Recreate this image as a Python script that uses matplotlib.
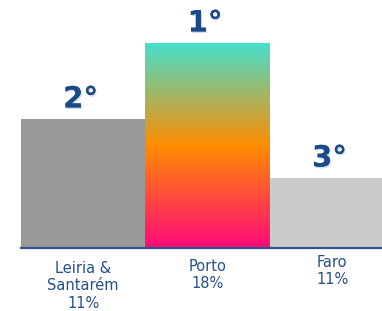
import numpy as np
import matplotlib.pyplot as plt
import matplotlib.patheffects as pe
from matplotlib.colors import LinearSegmentedColormap

# pódio: posições e textos
cities = ["Leiria &\nSantarém", "Porto", "Faro"]
shares = ["11%", "18%", "11%"]
places = ["2°", "1°", "3°"]
podium = [129, 205, 70]          # altura do degrau (unidades arbitrárias)
label_y = [-13, -11, -7]

navy = "#1b4a86"
fig = plt.figure(figsize=(3.82, 3.11), dpi=100)
ax = fig.add_axes([21/382, 63/311, 361/382, 248/311])

x = np.arange(len(cities))
bars = ax.bar(x, podium, width=1.0, color=["#999999", "none", "#cbcbcb"], linewidth=0)

# gradiente do 1º lugar
grad = LinearSegmentedColormap.from_list("g", ["#ff0a7a", "#ff8c00", "#45e0cc"])
b = bars[1]
img = ax.imshow(np.linspace(0, 1, 256).reshape(-1, 1), cmap=grad, aspect="auto",
                origin="lower", extent=[b.get_x(), b.get_x() + b.get_width(), 0, b.get_height()],
                zorder=2)
img.set_clip_path(b)

shadow = [pe.withSimplePatchShadow(offset=(0.8, -1.2), shadow_rgbFace=navy, alpha=0.18), pe.Normal()]
for i in range(len(cities)):
    ax.annotate(places[i], (x[i], podium[i]), xytext=(-2, 4), textcoords="offset points",
                ha="center", va="bottom", fontsize=21, fontweight="bold", color=navy,
                path_effects=shadow)
    ax.text(x[i], label_y[i], cities[i] + "\n" + shares[i], ha="center", va="top",
            fontsize=10.5, color="#244f8a", linespacing=1.2, clip_on=False)

ax.axhline(0, color="#2d558c", lw=1.6, zorder=4, clip_on=False)
ax.set_xlim(-0.5, 2.4)
ax.set_ylim(0, 248)
ax.axis("off")

fig.savefig("out.png", dpi=100)
